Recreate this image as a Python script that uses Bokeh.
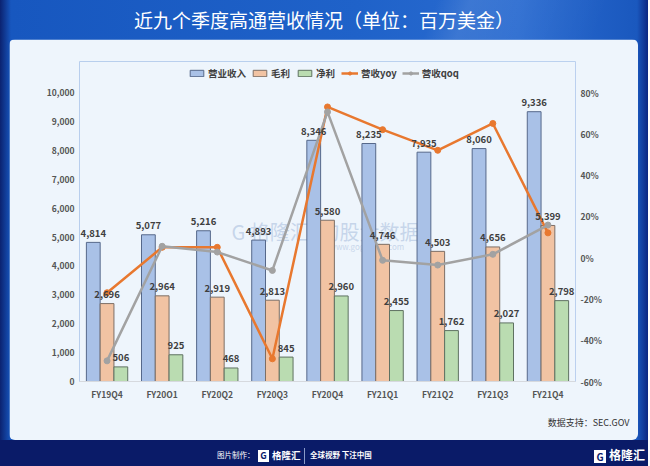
from bokeh.plotting import figure
from bokeh.layouts import column
from bokeh.models import (ColumnDataSource, FactorRange, Range1d, LinearAxis, NumeralTickFormatter,
                          FixedTicker, Legend, LegendItem, Label, Title, Div)
from bokeh.transform import dodge
from bokeh.core.properties import value
from bokeh.embed import file_html
from bokeh.resources import INLINE

# ---------------- data ----------------
categories = ["FY19Q4", "FY20O1", "FY20Q2", "FY20Q3", "FY20Q4", "FY21Q1", "FY21Q2", "FY21Q3", "FY21Q4"]
revenue = [4814, 5077, 5216, 4893, 8346, 8235, 7935, 8060, 9336]
gross = [2696, 2964, 2919, 2813, 5580, 4746, 4503, 4656, 5399]
net = [506, 925, 468, 845, 2960, 2455, 1762, 2027, 2798]
yoy = [-0.17, 0.05, 0.05, -0.49, 0.73, 0.62, 0.52, 0.65, 0.12]
qoq = [-0.50, 0.055, 0.027, -0.062, 0.706, -0.013, -0.036, 0.016, 0.158]
left_ticks = [0, 1000, 2000, 3000, 4000, 5000, 6000, 7000, 8000, 9000, 10000]
right_ticks = [-0.6, -0.4, -0.2, 0, 0.2, 0.4, 0.6, 0.8]
series_names = ["营业收入", "毛利", "净利", "营收yoy", "营收qoq"]
title_text = "近九个季度高通营收情况（单位：百万美金）"
source_text = "数据支持：SEC.GOV"

FONT = "Noto Sans CJK SC"
BLUE_F, BLUE_L = "#a9c1e7", "#56688a"
ORG_F, ORG_L = "#f1c3a3", "#7d6f66"
GRN_F, GRN_L = "#badcb1", "#5f7262"
YOY_C = "#e8782f"
QOQ_C = "#a2a2a2"
PANEL = "#eef5fc"
LBL = "#3f3f3f"

# geometry (pixels)
FRAME_W, FRAME_H, AXIS_H = 496, 320, 289   # frame includes legend strip on top
y_end = 10000 * FRAME_H / AXIS_H
pct_end = -0.6 + 1.4 * FRAME_H / AXIS_H

src = ColumnDataSource(dict(
    cat=categories, rev=revenue, gross=gross, net=net, yoy=yoy, qoq=qoq,
    rev_t=[f"{v:,}" for v in revenue],
    gross_t=[f"{v:,}" for v in gross],
    net_t=[f"{v:,}" for v in net],
))

p = figure(frame_width=FRAME_W, frame_height=FRAME_H, x_range=FactorRange(factors=categories),
           y_range=Range1d(0, y_end), output_backend="svg", toolbar_location=None, title=None,
           min_border_left=70, min_border_right=63, min_border_top=22, min_border_bottom=55,
           margin=(0, 0, 0, 9), styles={"border-radius": "6px", "overflow": "hidden"})
p.border_fill_color = PANEL
p.background_fill_color = PANEL
p.outline_line_color = None
p.grid.visible = False

def sx(X):
    return X - 80

def sy(Y):
    return 382 - Y

# watermark
for txt, X, Y, fs in [("G 格隆汇", 232, 232, "20px"), ("|  勾股大数据", 310, 232, "20px"),
                      ("www.gogudata.com", 330, 247, "8px")]:
    p.add_layout(Label(x=sx(X), y=sy(Y), x_units="screen", y_units="screen", text=txt,
                       text_font=FONT, text_font_size=fs, text_color="#b9cbe4", text_alpha=0.75,
                       text_baseline="middle", level="underlay"))

# axes
p.yaxis.ticker = FixedTicker(ticks=left_ticks)
p.yaxis.formatter = NumeralTickFormatter(format="0,0")
p.extra_y_ranges = {"pct": Range1d(-0.6, pct_end)}
ra = LinearAxis(y_range_name="pct", ticker=FixedTicker(ticks=right_ticks),
                formatter=NumeralTickFormatter(format="0%"))
p.add_layout(ra, "right")
for ax in [p.yaxis[0], ra, p.xaxis[0]]:
    ax.major_tick_line_color = None
    ax.minor_tick_line_color = None
    ax.major_tick_out = 0
    ax.major_tick_in = 0
    ax.minor_tick_out = 0
    ax.minor_tick_in = 0
    ax.major_label_standoff = 5
    ax.major_label_text_font = FONT
    ax.major_label_text_font_size = "8.5px"
    ax.major_label_text_font_style = "bold"
    ax.major_label_text_color = "#555555"
p.yaxis[0].axis_line_color = None
ra.axis_line_color = None
p.xaxis.axis_line_color = "#d6d9de"
p.xaxis.major_label_standoff = 6

# source note below the axis
p.add_layout(Title(text=source_text, align="right", text_font=FONT, text_font_size="9px",
                   text_font_style="normal", text_color="#333333", standoff=23, offset=-54), "below")

# bars
r_rev = p.vbar(x=dodge("cat", -0.25, range=p.x_range), top="rev", width=0.25, source=src,
               fill_color=BLUE_F, line_color=BLUE_L, line_width=1)
r_gross = p.vbar(x=dodge("cat", 0.0, range=p.x_range), top="gross", width=0.25, source=src,
                 fill_color=ORG_F, line_color=ORG_L, line_width=1)
r_net = p.vbar(x=dodge("cat", 0.25, range=p.x_range), top="net", width=0.25, source=src,
               fill_color=GRN_F, line_color=GRN_L, line_width=1)

# lines
l_yoy = p.line(x="cat", y="yoy", y_range_name="pct", source=src, line_color=YOY_C, line_width=2.5)
s_yoy = p.scatter(x="cat", y="yoy", y_range_name="pct", source=src, size=6, fill_color=YOY_C, line_color=YOY_C)
l_qoq = p.line(x="cat", y="qoq", y_range_name="pct", source=src, line_color=QOQ_C, line_width=2.5)
s_qoq = p.scatter(x="cat", y="qoq", y_range_name="pct", source=src, size=6, fill_color=QOQ_C, line_color=QOQ_C)

# data labels
for off, ycol, tcol in [(-0.25, "rev", "rev_t"), (0.0, "gross", "gross_t"), (0.25, "net", "net_t")]:
    p.text(x=dodge("cat", off, range=p.x_range), y=ycol, text=tcol, source=src,
           text_font=value(FONT), text_font_size="9.5px", text_font_style="bold",
           text_color=LBL, text_align="center", text_baseline="middle", y_offset=-9)

# legend (inside the frame's top strip)
legend = Legend(items=[
    LegendItem(label=series_names[0], renderers=[r_rev]),
    LegendItem(label=series_names[1], renderers=[r_gross]),
    LegendItem(label=series_names[2], renderers=[r_net]),
    LegendItem(label=series_names[3], renderers=[l_yoy, s_yoy]),
    LegendItem(label=series_names[4], renderers=[l_qoq, s_qoq]),
], orientation="horizontal", location=(sx(187), sy(83)))
legend.label_text_font = FONT
legend.label_text_font_size = "9.5px"
legend.label_text_font_style = "bold"
legend.label_text_color = "#404040"
legend.glyph_width = 17
legend.glyph_height = 8
legend.label_height = 14
legend.label_standoff = 3
legend.spacing = 5
legend.padding = 2
legend.margin = 0
legend.border_line_alpha = 0
legend.background_fill_alpha = 0
p.add_layout(legend)

# title band and footer as html around the figure
title_div = Div(text=title_text, width=648, height=39, margin=0,
                styles={"color": "white", "font-family": FONT, "font-size": "19px",
                        "text-align": "center", "line-height": "39px", "width": "648px",
                        "background": "linear-gradient(110deg, rgba(255,255,255,0) 66%, "
                                      "rgba(255,255,255,0.10) 71%, rgba(255,255,255,0.04) 82%, "
                                      "rgba(255,255,255,0) 92%)"})

footer_html = (
    '<div style="position:relative;width:648px;height:28px;font-family:\'Noto Sans CJK SC\';color:white;">'
    '<span style="position:absolute;left:217px;top:10px;font-size:7.5px;line-height:10px;white-space:nowrap;">图片制作：</span>'
    '<span style="position:absolute;left:258px;top:8px;font-size:9.5px;line-height:14px;font-weight:bold;white-space:nowrap;">'
    '<span style="display:inline-block;background:white;color:#0b1c6c;width:11px;height:12px;'
    'line-height:12px;text-align:center;font-size:9px;margin-right:3px;vertical-align:middle;">G</span>格隆汇</span>'
    '<span style="position:absolute;left:304px;top:8px;width:1px;height:16px;background:#8a9ac8;"></span>'
    '<span style="position:absolute;left:310px;top:10px;font-size:7.5px;line-height:10px;font-weight:bold;white-space:nowrap;">全球视野 下注中国</span>'
    '<span style="position:absolute;left:594px;top:7px;font-size:12px;line-height:16px;font-weight:bold;white-space:nowrap;">'
    '<span style="display:inline-block;background:white;color:#0b1c6c;width:12px;height:13px;'
    'line-height:13px;text-align:center;font-size:10px;margin-right:3px;vertical-align:middle;">G</span>格隆汇</span>'
    '</div>'
)
footer_div = Div(text=footer_html, width=648, height=28, margin=0,
                 styles={"background": "#0a1b68", "overflow": "hidden"})

layout = column(title_div, p, footer_div, spacing=0, width=648,
                styles={"background": "linear-gradient(to right, #0b2270 0px, #1757bf 11px, #1f62c9 55%, "
                                      "#2a6bd0 80%, #1a58be calc(100% - 11px), #0c2783 100%)",
                        "overflow": "hidden"})

open("out.html", "w").write(file_html(layout, INLINE))
